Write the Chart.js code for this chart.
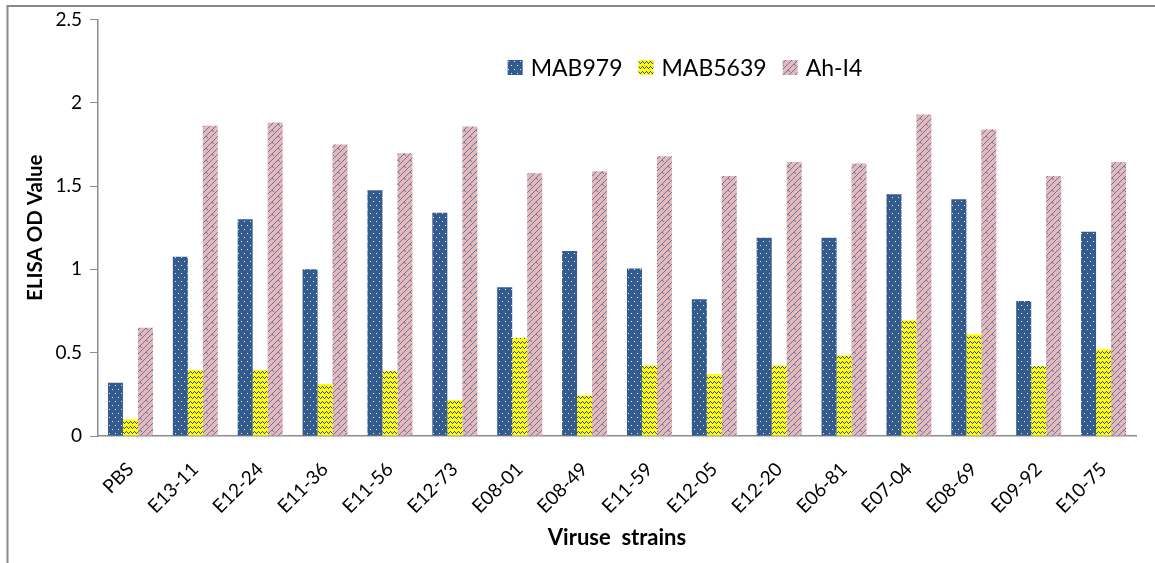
<!DOCTYPE html>
<html><head><meta charset="utf-8">
<script src="https://cdn.jsdelivr.net/npm/chart.js@4.4.0/dist/chart.umd.min.js"></script>
<style>html,body{margin:0;padding:0;background:#fff;}canvas{display:block}</style>
</head><body>
<canvas id="c" width="1155" height="563"></canvas>
<script>
const categories = ['PBS','E13-11','E12-24','E11-36','E11-56','E12-73','E08-01','E08-49','E11-59','E12-05','E12-20','E06-81','E07-04','E08-69','E09-92','E10-75'];
const seriesNames = ['MAB979','MAB5639','Ah-I4'];
const mab979 = [0.32,1.075,1.30,1.00,1.475,1.34,0.893,1.11,1.005,0.82,1.19,1.19,1.45,1.42,0.81,1.225];
const mab5639 = [0.10,0.396,0.396,0.312,0.39,0.216,0.588,0.244,0.424,0.372,0.425,0.485,0.695,0.61,0.42,0.52];
const ahI4 = [0.65,1.862,1.882,1.749,1.697,1.857,1.577,1.589,1.679,1.56,1.645,1.635,1.93,1.84,1.56,1.645];
const yTicks = ['0','0.5','1','1.5','2','2.5'];
const xTitle = 'Viruse  strains';
const yTitle = 'ELISA OD Value';

const canvas = document.getElementById('c');
const ctx = canvas.getContext('2d');

function makeTile(w, h, bg, fg, pixels) {
  const t = document.createElement('canvas');
  t.width = w; t.height = h;
  const c = t.getContext('2d');
  c.fillStyle = bg; c.fillRect(0, 0, w, h);
  c.fillStyle = fg;
  pixels.forEach(p => c.fillRect(p[0], p[1], 1, 1));
  return ctx.createPattern(t, 'repeat');
}
const bluePat = makeTile(6, 8, '#335b8e', '#e8eef8', [[1,1],[4,5]]);
const yellowPat = makeTile(4, 5, '#ffff00', '#34449a', [[0,3],[1,2],[2,1],[3,2]]);
const pinkPix = [];
for (let x = 0; x < 12; x++) for (let y = 0; y < 12; y++) {
  if ((x + y) % 6 === 5) pinkPix.push([x, y]);
}
[[2,4],[3,5],[8,10],[9,11]].forEach(p => pinkPix.push(p));
const pinkPat = makeTile(12, 12, '#e6b9b8', '#6676a6', pinkPix);

const fills = [bluePat, yellowPat, pinkPat];
const seriesData = [mab979, mab5639, ahI4];

const frame = {
  id: 'frame',
  beforeDraw(chart) {
    const c = chart.ctx;
    c.save();
    c.fillStyle = '#fff';
    c.fillRect(0, 0, chart.width, chart.height);
    c.strokeStyle = '#8a8a8a';
    c.lineWidth = 2;
    c.beginPath();
    c.moveTo(7.5, chart.height);
    c.lineTo(7.5, 6);
    c.lineTo(chart.width, 6);
    c.stroke();
    c.restore();
  }
};

const innerLegend = {
  id: 'innerLegend',
  afterDraw(chart) {
    const c = chart.ctx;
    c.save();
    c.font = '23px Lato';
    c.textBaseline = 'middle';
    const box = 15, gap = 8, itemGap = 16;
    const ds = chart.data.datasets;
    let total = 0;
    const widths = ds.map(d => c.measureText(d.label).width);
    widths.forEach((w, i) => { total += box + gap + w + (i < widths.length - 1 ? itemGap : 0); });
    let x = 685 - total / 2;
    const yc = 67.5;
    ds.forEach((d, i) => {
      c.fillStyle = d.backgroundColor;
      c.fillRect(x, yc - box / 2, box, box);
      x += box + gap;
      c.fillStyle = '#000';
      c.fillText(d.label, x, yc + 1);
      x += widths[i] + itemGap;
    });
    c.restore();
  }
};

new Chart(canvas, {
  type: 'bar',
  data: {
    labels: categories,
    datasets: seriesNames.map((n, i) => ({
      label: n,
      data: seriesData[i],
      backgroundColor: fills[i],
      borderWidth: 0,
      categoryPercentage: 0.693,
      barPercentage: 1.0
    }))
  },
  options: {
    responsive: false,
    animation: false,
    devicePixelRatio: 1,
    layout: { padding: { left: 0, top: 19, right: 19, bottom: 0 } },
    plugins: { legend: { display: false }, tooltip: { enabled: false } },
    scales: {
      x: {
        grid: { display: false, drawTicks: false },
        border: { display: true, color: '#8c8c8c', width: 1.5 },
        ticks: { color: '#000', font: { family: 'Lato', size: 19 }, maxRotation: 45, minRotation: 45, padding: 22, autoSkip: false },
        title: { display: true, text: xTitle, color: '#000', font: { family: 'Lato', size: 22, weight: 'bold' }, padding: { top: 0, bottom: 11.5 } },
        afterFit(s) { s.height = 127; }
      },
      y: {
        min: 0, max: 2.5,
        grid: { display: true, drawOnChartArea: false, drawTicks: true, tickLength: 8, color: '#8c8c8c', tickColor: '#8c8c8c' },
        border: { display: true, color: '#8c8c8c', width: 1.5 },
        ticks: { stepSize: 0.5, color: '#000', font: { family: 'Lato', size: 19 }, padding: 8,
          callback: (v, i) => yTicks[i] },
        title: { display: true, text: yTitle, color: '#000', font: { family: 'Lato', size: 20.5, weight: 'bold' }, padding: { top: 23.5, bottom: 0 } },
        afterFit(s) { s.width = 98; }
      }
    }
  },
  plugins: [frame, innerLegend]
});
</script>
</body></html>
